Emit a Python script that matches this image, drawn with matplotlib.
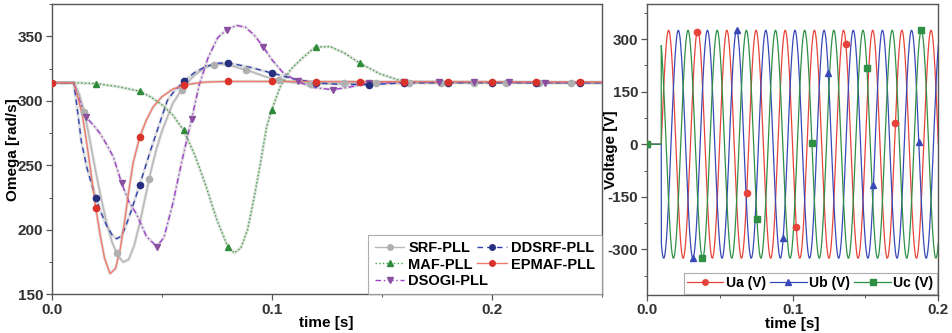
import numpy as np
import matplotlib
matplotlib.use('Agg')
import matplotlib.pyplot as plt
from matplotlib.ticker import MultipleLocator, FuncFormatter
from matplotlib.lines import Line2D
from matplotlib.legend import Legend

plt.rcParams['font.family'] = ['Liberation Sans', 'DejaVu Sans']
plt.rcParams['font.weight'] = 'bold'
plt.rcParams['axes.unicode_minus'] = False

# ---------------- Left panel data: Omega [rad/s] vs time [s] ----------------
srf_t = [0, 0.01, 0.0125, 0.015, 0.0175, 0.02, 0.0225, 0.025, 0.0275, 0.03, 0.0325, 0.035, 0.0375,
         0.04, 0.0425, 0.045, 0.0475, 0.05, 0.055, 0.06, 0.065, 0.07, 0.075, 0.08, 0.09, 0.1, 0.11,
         0.12, 0.13, 0.14, 0.16, 0.25]
srf_w = [314, 314, 305, 290, 268, 245, 224, 205, 190, 180, 175, 177, 188, 205, 225, 245, 262, 276,
         298, 311, 320, 326, 328.5, 328, 323, 317, 314, 313, 313.5, 314, 314, 314]
srf_mk = [0, 0.0148, 0.0295, 0.0443, 0.059, 0.0738, 0.0885, 0.1033, 0.118, 0.1328, 0.1475, 0.1623,
          0.177, 0.1918, 0.2065, 0.2213, 0.236]

ddsrf_t = [0, 0.01, 0.0115, 0.0135, 0.016, 0.018, 0.02, 0.0225, 0.025, 0.0275, 0.0295, 0.0315, 0.0335,
           0.036, 0.04, 0.045, 0.0525, 0.055, 0.06, 0.065, 0.07, 0.075, 0.08, 0.09, 0.1, 0.11, 0.12,
           0.13, 0.144, 0.16, 0.18, 0.25]
ddsrf_w = [314, 314, 295, 268, 248, 236, 225, 213, 203, 196, 193, 195, 202, 214, 235, 262, 300, 306,
           315, 322, 326.5, 329, 329.5, 326, 321.5, 317, 314, 312.8, 312.5, 313.8, 314, 314]
ddsrf_mk = [0.02, 0.04, 0.06, 0.08, 0.1, 0.12, 0.144, 0.16, 0.18, 0.2, 0.22, 0.24]

maf_t = [0, 0.01, 0.02, 0.03, 0.04, 0.045, 0.05, 0.055, 0.06, 0.065, 0.0697, 0.075, 0.08, 0.083, 0.086,
         0.089, 0.092, 0.0947, 0.0977, 0.1, 0.1038, 0.1085, 0.1129, 0.1197, 0.1265, 0.133, 0.14, 0.149,
         0.157, 0.165, 0.25]
maf_w = [314, 314, 313.3, 311, 307.4, 303, 297, 289, 277, 258, 236, 208, 187, 182, 186, 200, 225, 250,
         280, 293, 310.7, 324, 331.5, 341.6, 342, 337, 329.2, 321, 316.4, 314.5, 314]
maf_mk = [0.02, 0.04, 0.06, 0.08, 0.1, 0.12, 0.14]

epmaf_t = [0, 0.01, 0.012, 0.014, 0.016, 0.018, 0.02, 0.022, 0.024, 0.0265, 0.029, 0.031, 0.033, 0.035,
           0.037, 0.04, 0.043, 0.046, 0.05, 0.055, 0.06, 0.065, 0.07, 0.08, 0.25]
epmaf_w = [314, 314, 302, 288, 266, 242, 217, 196, 178, 166, 170, 184, 205, 230, 252, 272, 285, 295,
           303, 309, 312, 313.5, 314.5, 315, 314.5]
epmaf_mk = [0, 0.02, 0.04, 0.06, 0.08, 0.1, 0.12, 0.14, 0.16, 0.18, 0.2, 0.22, 0.24]

dsogi_t = [0, 0.01, 0.0125, 0.0155, 0.019, 0.022, 0.025, 0.028, 0.0318, 0.035, 0.0386, 0.043, 0.0477,
           0.051, 0.055, 0.059, 0.0636, 0.067, 0.0712, 0.0755, 0.0795, 0.084, 0.088, 0.092, 0.0962, 0.1,
           0.105, 0.111, 0.118, 0.1277, 0.135, 0.144, 0.16, 0.25]
dsogi_w = [314, 314, 301, 287.5, 281, 274.6, 266, 256.5, 236, 222, 212, 195, 187, 194, 220, 252, 286,
           312, 334, 349, 355, 358.4, 357, 351, 341.6, 332, 322, 315.7, 310.5, 308.6, 310.5, 313.5,
           314.5, 314]
dsogi_mk = [0.0155, 0.0318, 0.0477, 0.0636, 0.0795, 0.0962, 0.1118, 0.1277, 0.144, 0.16, 0.176, 0.192,
            0.208, 0.224, 0.24]

# ---------------- Right panel data: three-phase voltages ----------------
v_amp = 325.0          # peak voltage [V]
v_freq = 50.0          # [Hz]
v_start = 0.01         # switching-on time [s]
v_names = ['Ua (V)', 'Ub (V)', 'Uc (V)']
v_phase_deg = [0.0, -120.0, 120.0]
ua_mk = [0.0, 0.0345, 0.0686, 0.1026, 0.1366, 0.1706]
ub_mk = [0.0, 0.0317, 0.0617, 0.0936, 0.1245, 0.1555, 0.1866]
uc_mk = [0.0, 0.038, 0.0756, 0.1133, 0.151, 0.1883]

fig = plt.figure(figsize=(9.53, 3.33), dpi=100)
ax1 = fig.add_axes([0.0543, 0.1162, 0.5771, 0.8718])
ax2 = fig.add_axes([0.6786, 0.1141, 0.3060, 0.8739])

spine_col = '#555555'
tick_fs = 11

series = [
    ('SRF-PLL', srf_t, srf_w, srf_mk, '#b8b8b8', '-', 'o', '#b0b0b0'),
    ('MAF-PLL', maf_t, maf_w, maf_mk, '#3aa63a', ':', '^', '#2e8b3a'),
    ('DSOGI-PLL', dsogi_t, dsogi_w, dsogi_mk, '#a040d0', (0, (4, 2, 1, 2)), 'v', '#8a4fa0'),
    ('DDSRF-PLL', ddsrf_t, ddsrf_w, ddsrf_mk, '#3040b0', (0, (4, 3)), 'o', '#26307e'),
    ('EPMAF-PLL', epmaf_t, epmaf_w, epmaf_mk, '#f07a6a', '-', 'o', '#d8322a'),
]

handles = {}
for name, t, w, mk, col, ls, m, mcol in series:
    t = np.asarray(t)
    w = np.asarray(w)
    ax1.plot(t, w, color='#9a9a9a', lw=2.2, alpha=0.30, solid_capstyle='round', zorder=2)
    mt = np.asarray(mk)
    mw = np.interp(mt, t, w)
    ax1.plot(t, w, color=col, lw=1.0, ls=ls, zorder=3)
    ax1.plot(mt, mw, ls='none', marker=m, ms=4.5, color=mcol, mec=mcol, zorder=4)
    h, = ax1.plot([], [], color=col, lw=1.0, ls=ls, marker=m, ms=4, mfc=mcol, mec=mcol)
    handles[name] = h

ax1.set_xlim(0, 0.25)
ax1.set_ylim(150, 375)
ax1.xaxis.set_major_locator(MultipleLocator(0.1))
ax1.xaxis.set_minor_locator(MultipleLocator(0.05))
ax1.yaxis.set_major_locator(MultipleLocator(50))
ax1.yaxis.set_minor_locator(MultipleLocator(25))
ax1.xaxis.set_major_formatter(FuncFormatter(lambda v, p: f'{v:.1f}'))
ax1.set_xlabel('time [s]', fontsize=tick_fs, fontweight='bold')
ax1.set_ylabel('Omega [rad/s]', fontsize=tick_fs, fontweight='bold')
ax1.xaxis.set_label_coords(0.5, -0.075)
ax1.yaxis.set_label_coords(-0.058, 0.5)

leg_kw = dict(fancybox=False, handlelength=2.0, handletextpad=0.3,
              columnspacing=0.3, labelspacing=0.15, borderpad=0.45,
              prop={'weight': 'bold', 'size': 10.5})
dummy = Line2D([], [], alpha=0)
leg1 = ax1.legend([handles['SRF-PLL'], handles['MAF-PLL'], dummy,
                   handles['DDSRF-PLL'], handles['EPMAF-PLL']],
                  ['SRF-PLL', 'MAF-PLL', ' ', 'DDSRF-PLL', 'EPMAF-PLL'],
                  ncol=2, loc='lower right', borderaxespad=0.0, frameon=True, **leg_kw)
leg1.get_frame().set_edgecolor('#999999')
leg1.get_frame().set_linewidth(0.8)
leg1.set_zorder(5)
fig.canvas.draw()
bb = leg1.get_frame().get_window_extent(fig.canvas.get_renderer())
ax_x0, ax_y0 = ax1.transAxes.inverted().transform((bb.x0, bb.y0))
leg1b = Legend(ax1, [handles['DSOGI-PLL']], ['DSOGI-PLL'], loc='lower left',
               bbox_to_anchor=(ax_x0, ax_y0), bbox_transform=ax1.transAxes,
               borderaxespad=0.0, frameon=False, **leg_kw)
leg1b.set_zorder(7)
ax1.add_artist(leg1b)

# Right panel
t_v = np.linspace(0, 0.2, 6001)
omega = 2 * np.pi * v_freq
v_cols = ['#e8433a', '#3848b8', '#2f8f45']
v_markers = ['o', '^', 's']
v_mk_times = [ua_mk, ub_mk, uc_mk]
vh = []
for name, ph, col, m, mk in zip(v_names, v_phase_deg, v_cols, v_markers, v_mk_times):
    def volt(tt, ph=ph):
        tt = np.asarray(tt)
        return np.where(tt >= v_start, v_amp * np.sin(omega * (tt - v_start) + np.deg2rad(ph)), 0.0)
    ax2.plot(t_v, volt(t_v), color=col, lw=0.9, zorder=3)
    ax2.plot(mk, volt(mk), ls='none', marker=m, ms=4.5, color=col, zorder=4)
    h, = ax2.plot([], [], color=col, lw=0.9, marker=m, ms=4)
    vh.append((h, name))

ax2.set_xlim(0, 0.2)
ax2.set_ylim(-430, 400)
ax2.xaxis.set_major_locator(MultipleLocator(0.1))
ax2.xaxis.set_minor_locator(MultipleLocator(0.05))
ax2.yaxis.set_major_locator(MultipleLocator(150))
ax2.yaxis.set_minor_locator(MultipleLocator(75))
ax2.xaxis.set_major_formatter(FuncFormatter(lambda v, p: f'{v:.1f}'))
ax2.yaxis.set_major_formatter(FuncFormatter(lambda v, p: f'{v:.0f}'))
ax2.set_xlabel('time [s]', fontsize=tick_fs, fontweight='bold')
ax2.set_ylabel('Voltage [V]', fontsize=tick_fs, fontweight='bold')
ax2.xaxis.set_label_coords(0.5, -0.075)
ax2.yaxis.set_label_coords(-0.10, 0.5)
leg2 = ax2.legend([h for h, _ in vh], [n for _, n in vh], ncol=3, loc='lower right',
                  frameon=True, fancybox=False, borderaxespad=0.1,
                  handlelength=2.6, handletextpad=0.2, columnspacing=0.3,
                  borderpad=0.25, prop={'weight': 'bold', 'size': 10})
leg2.get_frame().set_edgecolor('#999999')
leg2.get_frame().set_linewidth(0.8)

for ax in (ax1, ax2):
    for s in ax.spines.values():
        s.set_color(spine_col)
        s.set_linewidth(1.0)
    ax.tick_params(which='major', direction='out', length=4, width=0.9, colors=spine_col,
                   labelcolor='#333333', labelsize=tick_fs, pad=2)
    ax.tick_params(which='minor', direction='out', length=2, width=0.7, colors=spine_col)
    ax.tick_params(top=False, right=False, which='both')
    for lab in ax.get_xticklabels() + ax.get_yticklabels():
        lab.set_fontweight('bold')

fig.savefig('out.png', dpi=100)
